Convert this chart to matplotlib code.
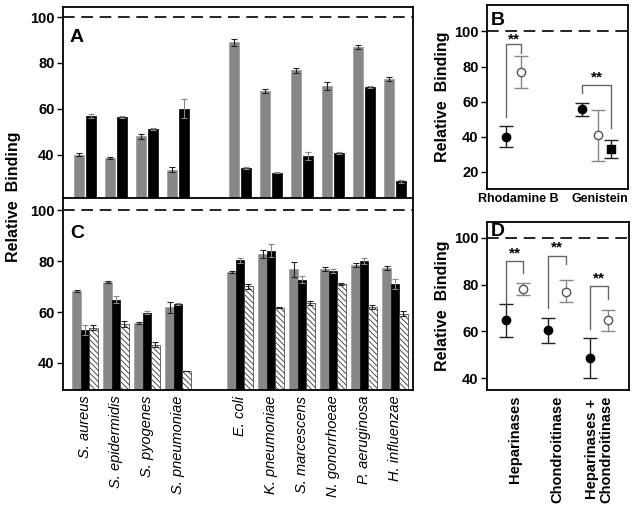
import numpy as np
import matplotlib
matplotlib.use('Agg')
import matplotlib.pyplot as plt

plt.rcParams['font.family'] = ['Liberation Sans', 'DejaVu Sans']
plt.rcParams['hatch.linewidth'] = 0.6

species = ['S. aureus', 'S. epidermidis', 'S. pyogenes', 'S. pneumoniae',
           'E. coli', 'K. pneumoniae', 'S. marcescens', 'N. gonorrhoeae',
           'P. aeruginosa', 'H. influenzae']

# panel A
a_gray = [40.0, 38.5, 48.0, 33.4, 89.0, 67.7, 76.8, 70.0, 86.9, 73.0]
a_gray_err = [0.8, 0.6, 1.0, 1.0, 1.5, 0.7, 1.0, 1.8, 0.8, 1.0]
a_black = [56.8, 56.3, 51.0, 60.1, 34.1, 32.1, 39.4, 40.7, 69.5, 28.3]
a_black_err = [1.0, 0.5, 0.4, 4.0, 0.4, 0.3, 1.7, 0.4, 0.5, 0.5]

# panel C
c_gray = [68.2, 71.9, 55.8, 61.9, 75.7, 82.9, 76.8, 77.0, 78.5, 77.2]
c_gray_err = [0.3, 0.3, 0.4, 2.2, 0.5, 1.5, 2.9, 0.8, 0.7, 0.8]
c_black = [52.9, 64.9, 59.7, 63.3, 80.3, 84.2, 72.8, 76.1, 80.0, 71.1]
c_black_err = [2.0, 1.5, 0.6, 0.4, 0.8, 2.7, 1.3, 0.7, 1.2, 2.1]
c_hatch = [53.9, 55.4, 47.2, 36.7, 70.2, 61.7, 63.6, 71.1, 61.9, 59.3]
c_hatch_err = [0.8, 1.2, 1.0, 0.0, 1.0, 0.3, 0.8, 0.3, 0.8, 1.0]

# panel B
b_groups = ['Rhodamine B', 'Genistein']
b_rho = [40, 77]          # filled circle, open circle
b_rho_lo = [34, 68]
b_rho_hi = [46, 86]
b_gen = [56, 41, 33]      # filled circle, open circle, filled square
b_gen_lo = [52, 26, 28]
b_gen_hi = [59.5, 55, 38]

# panel D
d_groups = ['Heparinases', 'Chondroitinase', 'Heparinases +\nChondroitinase']
d_filled = [64.7, 60.5, 48.5]
d_filled_lo = [57.5, 55.0, 40.0]
d_filled_hi = [71.5, 65.7, 57.0]
d_open = [78.0, 77.0, 65.0]
d_open_lo = [75.5, 72.5, 60.0]
d_open_hi = [80.5, 82.0, 69.0]

fig = plt.figure(figsize=(6.38, 5.11), dpi=100)
axA = fig.add_axes([0.0987, 0.6135, 0.5486, 0.3725])
axC = fig.add_axes([0.0987, 0.2368, 0.5486, 0.3767])
axB = fig.add_axes([0.7633, 0.6301, 0.2210, 0.3601])
axD = fig.add_axes([0.7633, 0.2368, 0.2226, 0.3288])

pos = np.array([0, 1, 2, 3, 5, 6, 7, 8, 9, 10], dtype=float)
gray = '#878787'
tick_font = dict(fontsize=10.5, fontweight='bold')
label_font = dict(fontsize=11.5, fontweight='bold')
star_font = dict(fontsize=11, fontweight='bold')


def style_axis(ax, yticks, ylim):
    ax.set_ylim(*ylim)
    ax.set_yticks(yticks)
    ax.set_yticklabels([str(t) for t in yticks], **tick_font)
    ax.tick_params(axis='y', direction='out', length=4, width=1, pad=2)
    ax.tick_params(axis='x', length=0)
    for s in ax.spines.values():
        s.set_linewidth(1.3)
    ax.axhline(100, color='black', lw=1.2, ls=(0, (7, 4)))


# ---- A
w = 0.31
axA.bar(pos - 0.2, a_gray, w, color=gray, edgecolor='#9a9a9a', lw=0.5)
axA.bar(pos + 0.2, a_black, w, color='black', edgecolor='black', lw=0.5)
axA.errorbar(pos - 0.2, a_gray, yerr=a_gray_err, fmt='none', ecolor='#222222',
             elinewidth=0.8, capsize=2.5, capthick=0.8)
axA.errorbar(pos + 0.2, a_black, yerr=a_black_err, fmt='none', ecolor='#888888',
             elinewidth=0.8, capsize=2.5, capthick=0.8)
axA.set_xlim(-0.71, 10.58)
axA.set_xticks([])
style_axis(axA, [40, 60, 80, 100], (21.3, 104.3))
axA.spines['bottom'].set_visible(False)
axA.text(0.02, 0.815, 'A', transform=axA.transAxes, fontsize=14, fontweight='bold')

# ---- C
w = 0.27
axC.bar(pos - 0.27, c_gray, w, color=gray, edgecolor='#9a9a9a', lw=0.5)
axC.bar(pos, c_black, w, color='black', edgecolor='black', lw=0.5)
axC.bar(pos + 0.27, c_hatch, w, color='white', edgecolor='#333333', lw=0.5,
        hatch='\\\\\\\\\\\\')
axC.errorbar(pos - 0.27, c_gray, yerr=c_gray_err, fmt='none', ecolor='#222222',
             elinewidth=0.8, capsize=2.2, capthick=0.8)
axC.errorbar(pos, c_black, yerr=c_black_err, fmt='none', ecolor='#888888',
             elinewidth=0.8, capsize=2.2, capthick=0.8)
axC.errorbar(pos + 0.27, c_hatch, yerr=c_hatch_err, fmt='none', ecolor='#222222',
             elinewidth=0.8, capsize=2.2, capthick=0.8)
axC.set_xlim(-0.71, 10.58)
style_axis(axC, [40, 60, 80, 100], (29.3, 105.1))
axC.set_xticks(pos)
axC.set_xticklabels(species, rotation=90, fontsize=10.5, fontstyle='italic')
axC.tick_params(axis='x', pad=4)
axC.text(0.02, 0.79, 'C', transform=axC.transAxes, fontsize=14, fontweight='bold')

fig.text(0.021, 0.614, 'Relative  Binding', rotation=90, ha='center', va='center',
         **label_font)

# ---- B
bx = np.array([1.0, 2.0])
rx = bx[0] + np.array([-0.15, 0.04])
gx = bx[1] + np.array([-0.22, -0.02, 0.14])
cap = 5
axB.errorbar(rx[0], b_rho[0], yerr=[[b_rho[0] - b_rho_lo[0]], [b_rho_hi[0] - b_rho[0]]],
             fmt='o', color='black', ms=6, ecolor='#222222', elinewidth=1, capsize=cap)
axB.errorbar(rx[1], b_rho[1], yerr=[[b_rho[1] - b_rho_lo[1]], [b_rho_hi[1] - b_rho[1]]],
             fmt='o', mfc='white', mec='#555555', ms=6, ecolor='#888888', elinewidth=1,
             capsize=cap)
axB.errorbar(gx[0], b_gen[0], yerr=[[b_gen[0] - b_gen_lo[0]], [b_gen_hi[0] - b_gen[0]]],
             fmt='o', color='black', ms=6, ecolor='#222222', elinewidth=1, capsize=cap)
axB.errorbar(gx[1], b_gen[1], yerr=[[b_gen[1] - b_gen_lo[1]], [b_gen_hi[1] - b_gen[1]]],
             fmt='o', mfc='white', mec='#555555', ms=6, ecolor='#888888', elinewidth=1,
             capsize=cap)
axB.errorbar(gx[2], b_gen[2], yerr=[[b_gen[2] - b_gen_lo[2]], [b_gen_hi[2] - b_gen[2]]],
             fmt='s', color='black', ms=5.5, ecolor='#222222', elinewidth=1, capsize=cap)
# significance brackets
axB.plot([rx[0], rx[0], rx[1], rx[1]], [51, 92.6, 92.6, 87.5], color='#666666', lw=1)
axB.text(rx.mean(), 95.5, '**', ha='center', va='center', **star_font)
axB.plot([gx[0], gx[0], gx[2], gx[2]], [65, 69.7, 69.7, 45], color='#666666', lw=1)
axB.text((gx[0] + gx[2]) / 2, 73.5, '**', ha='center', va='center', **star_font)
axB.set_xlim(0.622, 2.341)
style_axis(axB, [20, 40, 60, 80, 100], (10.3, 115))
axB.set_xticks(bx)
axB.set_xticklabels(b_groups, fontsize=9, fontweight='bold')
axB.tick_params(axis='x', pad=3)
axB.set_ylabel('Relative  Binding', labelpad=3, **label_font)
axB.text(0.03, 0.89, 'B', transform=axB.transAxes, fontsize=14, fontweight='bold')

# ---- D
dx = np.array([1.0, 2.0, 3.0])
fx = dx - 0.21
ox = dx + 0.21
axD.errorbar(fx, d_filled,
             yerr=[np.array(d_filled) - d_filled_lo, np.array(d_filled_hi) - d_filled],
             fmt='o', color='black', ms=6, ecolor='#222222', elinewidth=1, capsize=cap,
             ls='none')
axD.errorbar(ox, d_open,
             yerr=[np.array(d_open) - d_open_lo, np.array(d_open_hi) - d_open],
             fmt='o', mfc='white', mec='#555555', ms=6, ecolor='#888888', elinewidth=1,
             capsize=cap, ls='none')
br_top = [90, 92, 79.2]
br_left = [72, 70, 61]
br_right = [84.8, 88.8, 74]
star_y = [93.3, 95.8, 82.6]
for i in range(3):
    axD.plot([fx[i], fx[i], ox[i], ox[i]], [br_left[i], br_top[i], br_top[i], br_right[i]],
             color='#666666', lw=1)
    axD.text(dx[i], star_y[i], '**', ha='center', va='center', **star_font)
axD.set_xlim(0.349, 3.70)
style_axis(axD, [40, 60, 80, 100], (35, 106.7))
axD.set_xticks(dx)
axD.set_xticklabels(d_groups, rotation=90, fontsize=10.5, fontweight='bold',
                    linespacing=1.0)
axD.tick_params(axis='x', pad=4)
axD.set_ylabel('Relative  Binding', labelpad=3, **label_font)
axD.text(0.03, 0.915, 'D', transform=axD.transAxes, fontsize=14, fontweight='bold')

fig.savefig('out.png', dpi=100)
